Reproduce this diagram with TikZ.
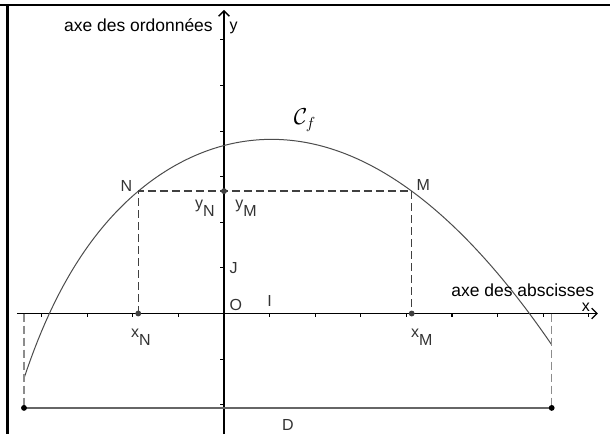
\documentclass[tikz,border=0pt]{standalone}
\usepackage{fontspec}
\setmainfont{Liberation Sans}
\usepackage{amsmath}
\usepackage{amssymb}
\usepackage{tikz}
\usetikzlibrary{positioning}
\usetikzlibrary{arrows.meta}

\newcommand{\bas}[1]{\raisebox{-0.5em}{#1}}

\begin{document}
\begin{tikzpicture}[x=34.2pt, y=34.2pt,
  declare function={f(\x)=3.83-0.118*(\x-1)*(\x-1)-1.83*exp(-0.95*(\x+4.386));},
  axe/.style={line width=1pt, -{Straight Barb[length=4pt, width=8pt]}},
  rappel/.style={black!75, line width=1pt, dash pattern=on 6pt off 3pt},
  projection/.style={black!45, line width=0.8pt, dash pattern=on 6pt off 3pt},
  pt/.style={circle, fill=black!75, inner sep=0pt, minimum size=4.4pt},
  lbl/.style={text=black!80, inner sep=0pt, font=\fontsize{12}{14}\selectfont},
  titre/.style={inner sep=0pt, font=\fontsize{13.1}{15}\selectfont}]

  \useasboundingbox (-4.912,-2.643) rectangle (8.465,6.875);
  % cadre
  \draw[line width=1.6pt] (-4.912,6.765) -- (8.465,6.765);
  \draw[line width=1.6pt] (-4.748,6.765) -- (-4.748,-2.643);

  % repere
  \coordinate (O) at (0,0);
  \coordinate (I) at (1,0);
  \coordinate (J) at (0,1);
  \coordinate (xg) at (-4.54,0);
  \coordinate (xd) at (8.2,0);
  \coordinate (yb) at (0,-2.643);
  \coordinate (yh) at (0,6.656);
  \draw[axe] (xg) -- (xd);
  \draw[axe] (yb) -- (yh);
  \foreach \k in {-4,-3,-2,-1,1,2,3,4,5,6,7,8}
    \draw[line width=0.8pt] (\k,0) -- (\k,-0.075);
  \foreach \k in {-2,-1,1,2,3,4,5,6}
    \draw[line width=0.8pt] (0,\k) -- (-0.085,\k);

  % courbe
  \draw[black!70, line width=0.75pt] plot[domain=-4.386:7.186, samples=150] (\x,{f(\x)});

  \coordinate (M) at (4.116,{f(4.116)});
  \coordinate (N) at (-1.88,{f(4.116)});
  \coordinate (xN) at (-1.88,0);
  \coordinate (xM) at (4.116,0);
  \coordinate (yN) at (0,{f(4.116)});
  \draw[rappel] (xN) -- (N) -- (M) -- (xM);
  \node[pt] (pxN) at (xN) {};
  \node[pt] (pxM) at (xM) {};
  \node[pt] (pyN) at (yN) {};

  % segment D
  \coordinate (Cg) at (-4.386,0);
  \coordinate (Cd) at (7.186,0);
  \coordinate (Dg) at (-4.386,-2.07);
  \coordinate (Dd) at (7.186,-2.07);
  \draw[projection] (Cg) -- (Dg);
  \draw[projection] (Cd) -- (Dd);
  \draw[black!60, line width=1pt] (Dg) -- node[lbl, below=8.3pt] (lD) {D} (Dd);
  \node[pt, fill=black] (pDg) at (Dg) {};
  \node[pt, fill=black] (pDd) at (Dd) {};

  \node[lbl, above left=-0.3pt and 4.4pt of N] (lN) {N};
  \node[lbl, above right=0.4pt and 3.5pt of M] (lM) {M};
  \node[lbl, below left=6.8pt and 6.7pt of yN] (lyN) {y\bas{N}};
  \node[lbl, below right=6.8pt and 8.4pt of yN] (lyM) {y\bas{M}};
  \node[lbl, below right=11.3pt and -5.5pt of xN] (lxN) {x\bas{N}};
  \node[lbl, below right=11.3pt and -0.7pt of xM] (lxM) {x\bas{M}};
  \node[lbl, above right=1.9pt and 4pt of O] (lO) {O};
  \node[lbl, above=5.3pt of I] (lI) {I};
  \node[lbl, right=4pt of J] (lJ) {J};

  \node[titre, anchor=east] (tOrd) at (-0.241,6.32) {axe des ordonnées};
  \node[lbl, text=black, anchor=west] (ty) at (0.12,6.27) {y};
  \node[titre] (tAbs) at (6.553,0.51) {axe des abscisses};
  \node[lbl, text=black] (tx) at (7.935,0.14) {x};
  \node[font=\fontsize{17}{20}\selectfont] (Cf) at (1.776,4.243) {$\mathcal{C}_f$};
\end{tikzpicture}
\end{document}
